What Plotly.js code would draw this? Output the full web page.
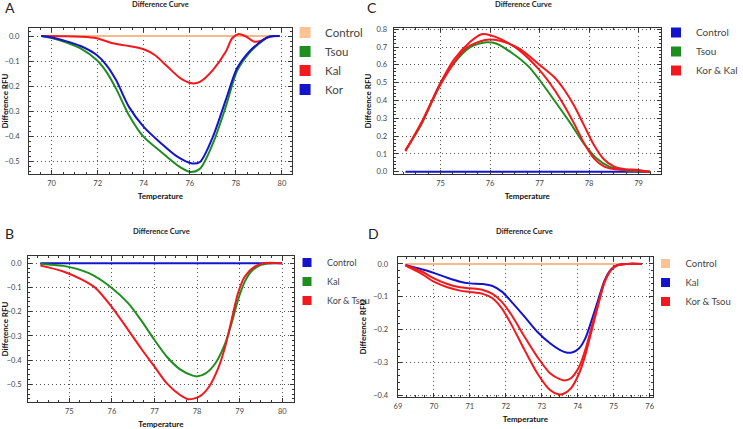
<!DOCTYPE html>
<html><head><meta charset="utf-8">
<script src="https://cdn.plot.ly/plotly-3.0.1.min.js"></script>
<style>html,body{margin:0;padding:0;background:#fff}#c{width:743px;height:429px}</style>
</head><body><div id="c"></div>
<script>
// ---------- DATA ----------
// Panel A
const aControlT = [69.55, 79.9];
const aControlV = [0, 0];
const aTsouT = [69.55, 70.0, 70.56, 71.26, 71.96, 72.38, 72.8, 73.36, 74.0, 74.76, 75.46, 76.02, 76.44, 77.0, 77.56, 78.05, 78.54, 78.96, 79.38, 79.66, 79.9];
const aTsouV = [0, -0.008, -0.023, -0.049, -0.096, -0.143, -0.21, -0.316, -0.403, -0.463, -0.516, -0.543, -0.53, -0.43, -0.283, -0.14, -0.072, -0.034, -0.005, 0, 0];
const aKorT = [69.55, 70.0, 70.56, 71.26, 71.96, 72.38, 72.8, 73.36, 74.0, 74.76, 75.46, 76.1, 76.44, 77.0, 77.56, 78.05, 78.54, 78.96, 79.38, 79.66, 79.9];
const aKorV = [0, -0.006, -0.019, -0.04, -0.076, -0.116, -0.176, -0.283, -0.363, -0.429, -0.482, -0.509, -0.503, -0.403, -0.256, -0.129, -0.066, -0.031, -0.005, 0, 0];
const aKalT = [69.55, 70.5, 71.26, 71.96, 72.66, 73.36, 74.0, 74.48, 75.04, 75.6, 76.1, 76.44, 77.0, 77.56, 77.84, 78.12, 78.4, 78.82, 79.1, 79.45, 79.9];
const aKalV = [0, -0.001, -0.003, -0.009, -0.029, -0.04, -0.053, -0.076, -0.123, -0.169, -0.189, -0.183, -0.136, -0.063, -0.009, 0.008, 0, -0.023, -0.019, -0.003, 0];

// Panel B
const bControlT = [74.32, 80.0];
const bControlV = [0, 0];
const bKalT = [74.32, 74.86, 75.46, 75.99, 76.38, 76.68, 77.0, 77.29, 77.6, 77.9, 78.01, 78.2, 78.43, 78.66, 78.81, 78.96, 79.12, 79.27, 79.5, 79.73, 79.99];
const bKalV = [-0.003, -0.011, -0.041, -0.101, -0.165, -0.234, -0.317, -0.386, -0.438, -0.464, -0.467, -0.455, -0.413, -0.331, -0.248, -0.152, -0.076, -0.034, -0.007, 0, 0];
const bKorTsouT = [74.32, 74.86, 75.31, 75.62, 75.99, 76.38, 76.68, 77.0, 77.29, 77.6, 77.79, 78.05, 78.28, 78.51, 78.66, 78.81, 78.96, 79.12, 79.35, 79.57, 79.99];
const bKorTsouV = [-0.01, -0.034, -0.069, -0.103, -0.179, -0.275, -0.351, -0.427, -0.496, -0.544, -0.561, -0.551, -0.51, -0.427, -0.344, -0.234, -0.124, -0.055, -0.014, 0, 0];

// Panel C
const cControlT = [74.29, 79.23];
const cControlV = [0, 0];
const cTsouT = [74.29, 74.62, 75.0, 75.27, 75.6, 75.93, 76.12, 76.45, 76.78, 77.0, 77.3, 77.63, 77.89, 78.15, 78.41, 78.67, 79.0, 79.23];
const cTsouV = [0.12, 0.27, 0.5, 0.61, 0.7, 0.727, 0.72, 0.665, 0.59, 0.515, 0.4, 0.27, 0.16, 0.075, 0.028, 0.01, 0.002, 0];
const cKorKal1T = [74.29, 74.62, 75.0, 75.27, 75.6, 75.83, 75.99, 76.25, 76.6, 77.0, 77.3, 77.5, 77.7, 77.9, 78.1, 78.3, 78.5, 78.8, 79.23];
const cKorKal1V = [0.115, 0.28, 0.5, 0.63, 0.73, 0.772, 0.768, 0.74, 0.68, 0.57, 0.46, 0.37, 0.27, 0.16, 0.075, 0.03, 0.015, 0.01, 0];
const cKorKal2T = [74.29, 74.62, 75.0, 75.5, 75.9, 76.2, 76.6, 77.0, 77.3, 77.5, 77.7, 77.9, 78.1, 78.3, 78.5, 78.7, 79.0, 79.23];
const cKorKal2V = [0.12, 0.275, 0.49, 0.69, 0.74, 0.735, 0.69, 0.6, 0.53, 0.46, 0.37, 0.26, 0.15, 0.07, 0.03, 0.015, 0.01, 0];

// Panel D
const dControlT = [69.21, 75.78];
const dControlV = [0, 0];
const dKalT = [69.21, 69.66, 70.0, 70.375, 70.73, 71.0, 71.36, 71.63, 71.89, 72.16, 72.52, 72.875, 73.23, 73.5, 73.68, 73.86, 74.04, 74.21, 74.39, 74.57, 74.75, 74.93, 75.11, 75.375, 75.78];
const dKalV = [-0.003, -0.016, -0.027, -0.042, -0.054, -0.059, -0.061, -0.067, -0.084, -0.115, -0.16, -0.206, -0.241, -0.261, -0.269, -0.268, -0.256, -0.226, -0.17, -0.109, -0.049, -0.016, -0.003, 0, 0];
const dKorTsou1T = [69.21, 69.66, 70.0, 70.375, 70.73, 71.0, 71.36, 71.63, 71.89, 72.16, 72.52, 72.875, 73.23, 73.5, 73.63, 73.81, 74.04, 74.21, 74.39, 74.57, 74.75, 74.93, 75.11, 75.375, 75.78];
const dKorTsou1V = [-0.004, -0.023, -0.044, -0.061, -0.071, -0.074, -0.079, -0.091, -0.115, -0.155, -0.221, -0.282, -0.332, -0.35, -0.354, -0.347, -0.312, -0.261, -0.19, -0.119, -0.054, -0.018, -0.004, 0, 0];
const dKorTsou2T = [69.21, 69.66, 70.0, 70.375, 70.73, 71.0, 71.36, 71.63, 71.89, 72.16, 72.52, 72.875, 73.23, 73.46, 73.59, 73.81, 74.04, 74.21, 74.39, 74.57, 74.75, 74.93, 75.11, 75.375, 75.78];
const dKorTsou2V = [-0.005, -0.03, -0.054, -0.071, -0.081, -0.085, -0.091, -0.104, -0.135, -0.185, -0.261, -0.332, -0.383, -0.396, -0.395, -0.378, -0.332, -0.277, -0.201, -0.125, -0.054, -0.018, -0.004, 0, 0];

// Legend labels
const aLabels = ['Control', 'Tsou', 'Kal', 'Kor'];
const bLabels = ['Control', 'Kal', 'Kor & Tsou'];
const cLabels = ['Control', 'Tsou', 'Kor & Kal'];
const dLabels = ['Control', 'Kal', 'Kor & Tsou'];

// ---------- STYLE ----------
const W = 743, H = 429;
const FONT = 'Lato, "Open Sans", sans-serif';
const PEACH = '#F7B98A', PEACH_SQ = '#FBC394', GREEN = '#1E8E1E', RED = '#F2181C', BLUE = '#1414CC';
const px = v => v / W;
const py = v => 1 - v / H;

function line(x, y, color, xa, ya) {
  return {x, y, type: 'scatter', mode: 'lines', xaxis: xa, yaxis: ya, showlegend: false, hoverinfo: 'skip',
    line: {color, width: 2, shape: 'spline', smoothing: 0.8}};
}
function key(name, color, legend, size) {
  return {x: [null], y: [null], type: 'scatter', mode: 'markers', name, legend, xaxis: 'x', yaxis: 'y',
    marker: {symbol: 'square', size, color, line: {width: 0}}, hoverinfo: 'skip'};
}

const traces = [
  line(aControlT, aControlV, PEACH, 'x', 'y'),
  line(aKalT, aKalV, RED, 'x', 'y'),
  line(aTsouT, aTsouV, GREEN, 'x', 'y'),
  line(aKorT, aKorV, BLUE, 'x', 'y'),
  line(cControlT, cControlV, BLUE, 'x2', 'y2'),
  line(cTsouT, cTsouV, GREEN, 'x2', 'y2'),
  line(cKorKal1T, cKorKal1V, RED, 'x2', 'y2'),
  line(cKorKal2T, cKorKal2V, RED, 'x2', 'y2'),
  line(bControlT, bControlV, BLUE, 'x3', 'y3'),
  line(bKalT, bKalV, GREEN, 'x3', 'y3'),
  line(bKorTsouT, bKorTsouV, RED, 'x3', 'y3'),
  line(dControlT, dControlV, PEACH, 'x4', 'y4'),
  line(dKalT, dKalV, BLUE, 'x4', 'y4'),
  line(dKorTsou1T, dKorTsou1V, RED, 'x4', 'y4'),
  line(dKorTsou2T, dKorTsou2V, RED, 'x4', 'y4'),
  key(aLabels[0], PEACH_SQ, 'legend', 11), key(aLabels[1], GREEN, 'legend', 11),
  key(aLabels[2], RED, 'legend', 11), key(aLabels[3], BLUE, 'legend', 11),
  key(cLabels[0], BLUE, 'legend2', 10), key(cLabels[1], GREEN, 'legend2', 10), key(cLabels[2], RED, 'legend2', 10),
  key(bLabels[0], BLUE, 'legend3', 9), key(bLabels[1], GREEN, 'legend3', 9), key(bLabels[2], RED, 'legend3', 9),
  key(dLabels[0], PEACH_SQ, 'legend4', 9), key(dLabels[1], BLUE, 'legend4', 9), key(dLabels[2], RED, 'legend4', 9)
];

const GRIDDASH = '1px,3px';
function xax(domain, range, dtick, minorDt, anchor) {
  return {domain, range, anchor, dtick, tick0: 0, showgrid: true, gridcolor: '#555', griddash: GRIDDASH, gridwidth: 1,
    zeroline: false, showline: true, linecolor: '#333', linewidth: 1, mirror: 'ticks',
    ticks: 'inside', ticklen: 4, tickcolor: '#333', ticklabelstandoff: 2,
    tickfont: {size: 7.5, color: '#444', family: FONT},
    minor: {dtick: minorDt, ticks: 'inside', ticklen: 2, tickcolor: '#333', showgrid: false},
    title: {text: 'Temperature', font: {size: 8, color: '#111', family: FONT, weight: 'bold'}, standoff: 6}};
}
function yax(domain, range, minorDt, anchor, lblOff, titleOff) {
  return {domain, range, anchor, dtick: 0.1, tick0: 0, tickformat: '.1f', showgrid: true, gridcolor: '#555', griddash: GRIDDASH, gridwidth: 1,
    zeroline: false, showline: true, linecolor: '#333', linewidth: 1, mirror: 'ticks',
    ticks: 'inside', ticklen: 4, tickcolor: '#333', ticklabelstandoff: lblOff,
    tickfont: {size: 7.5, color: '#444', family: FONT},
    minor: {dtick: minorDt, ticks: 'inside', ticklen: 2, tickcolor: '#333', showgrid: false},
    title: {text: 'Difference RFU', font: {size: 8, color: '#111', family: FONT, weight: 'bold'}, standoff: titleOff}};
}

function leg(x, y, size) {
  return {x: px(x), y: py(y), xanchor: 'left', yanchor: 'top', bgcolor: 'rgba(0,0,0,0)', borderwidth: 0,
    font: {size, color: '#444', family: FONT}, itemclick: false, itemdoubleclick: false};
}

function ann(text, x, y, size, bold) {
  return {text, x: px(x), y: py(y), xref: 'paper', yref: 'paper', showarrow: false, xanchor: 'center', yanchor: 'middle',
    font: {size, color: '#222', family: FONT, weight: bold ? 'bold' : 'normal'}};
}

const layout = {
  width: W, height: H, margin: {l: 0, r: 0, t: 0, b: 0}, paper_bgcolor: '#fff', plot_bgcolor: '#fff',
  showlegend: true,
  xaxis: xax([px(30), px(302)], [69.02, 80.43], 2, 0.5, 'y'),
  yaxis: yax([py(174), py(28)], [-0.551, 0.032], 0.02, 'x', 7, 4),
  xaxis2: xax([px(407.3), px(684)], [74.05, 79.455], 1, 0.25, 'y2'),
  yaxis2: yax([py(174), py(28)], [-0.013, 0.807], 0.02, 'x2', 4, 3),
  xaxis3: xax([px(29), px(304)], [74.03, 80.27], 1, 0.25, 'y3'),
  yaxis3: yax([py(402.3), py(255.7)], [-0.574, 0.031], 0.02, 'x3', 4, 5),
  xaxis4: xax([px(411.4), px(676)], [68.99, 76.1], 1, 0.25, 'y4'),
  yaxis4: yax([py(397.3), py(256.7)], [-0.405, 0.022], 0.02, 'x4', 7, 5),
  legend: leg(295, 18, 11.5),
  legend2: leg(679, 18, 10),
  legend3: leg(297, 248, 9),
  legend4: leg(668, 249, 9.5),
  annotations: [
    ann('A', 10, 7, 14, false), ann('Difference Curve', 166, 4, 7.5, true),
    ann('C', 385, 7, 14, false), ann('Difference Curve', 542, 4, 7.5, true),
    ann('B', 10, 233, 14, false), ann('Difference Curve', 167, 231, 7.5, true),
    ann('D', 387, 233, 14, false), ann('Difference Curve', 543, 231, 7.5, true)
  ]
};

Plotly.newPlot('c', traces, layout, {displayModeBar: false, staticPlot: true});
</script></body></html>
